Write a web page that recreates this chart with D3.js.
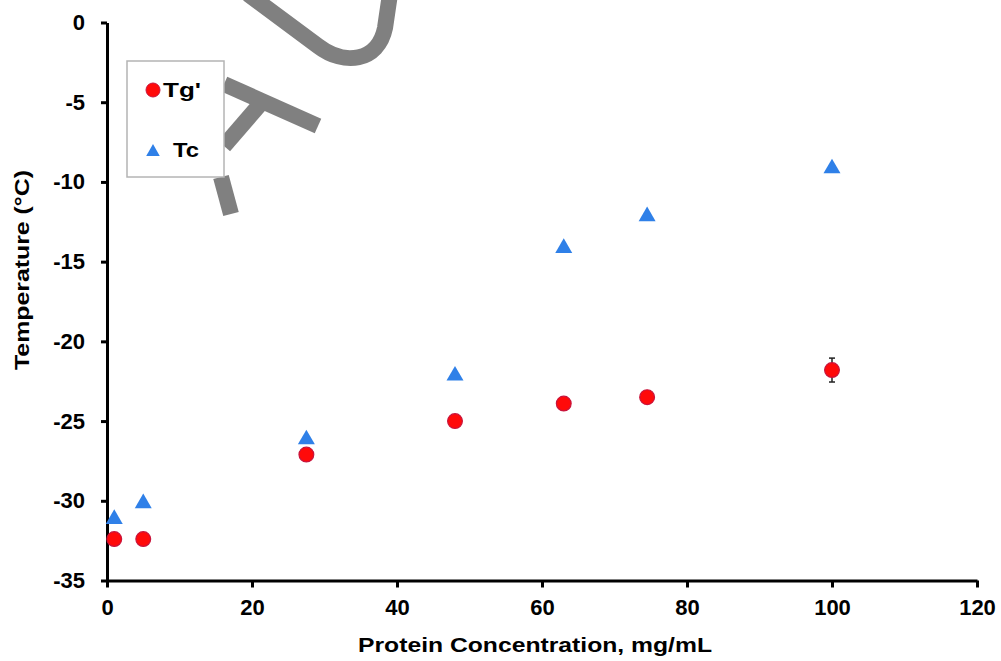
<!DOCTYPE html>
<html>
<head>
<meta charset="utf-8">
<script src="https://cdn.jsdelivr.net/npm/d3@7"></script>
<style>
  body { margin: 0; background: #fff; overflow: hidden; }
  text { font-family: "Liberation Sans", Arial, sans-serif; font-weight: bold; fill: #000; }
</style>
</head>
<body>
<script>
// values
const concentration = [1, 5, 27.5, 48, 63, 74.5, 100]
const tgPrime = [-32.4, -32.4, -27.1, -25.0, -23.9, -23.5, -21.8]
const tgError = [0, 0, 0, 0, 0, 0, 0.75]
const tc = [-31, -30, -26, -22, -14, -12, -9]
const xTicks = [0, 20, 40, 60, 80, 100, 120]
const yTicks = [0, -5, -10, -15, -20, -25, -30, -35]
const seriesNames = ["Tg'", 'Tc']

const width = 1001
const height = 661
const margin = { top: 22.5, right: 24, bottom: 80.5, left: 107 }

const red = '#ff0a0a'
const redEdge = '#c8143c'
const blue = '#2f80e8'

const svg = d3.select('body').append('svg')
    .attr('width', width)
    .attr('height', height)

const x = d3.scaleLinear().domain([0, 120]).range([margin.left, width - margin.right])
const y = d3.scaleLinear().domain([-35, 0]).range([height - margin.bottom, margin.top])

// grey watermark strokes behind the plot
const watermark = svg.append('g')
    .attr('fill', 'none')
    .attr('stroke', '#808080')
    .attr('stroke-width', 16)
watermark.append('path').attr('d', 'M224,84 L318,126')
watermark.append('path').attr('d', 'M262,102 L224,146')
watermark.append('path').attr('d', 'M221,177 L231,214')
watermark.append('path').attr('d', 'M248,-6 L318,46 C344,66 378,62 385,28 L390,-6')

// axes
const xAxis = svg.append('g')
    .attr('transform', `translate(0,${y(-35)})`)
    .call(d3.axisBottom(x).tickValues(xTicks).tickSize(7).tickSizeOuter(0).tickPadding(12).tickFormat(d => String(d)))
const yAxis = svg.append('g')
    .attr('transform', `translate(${x(0)},0)`)
    .call(d3.axisLeft(y).tickValues(yTicks).tickSize(6).tickSizeOuter(0).tickPadding(16).tickFormat(d => String(d)))

;[xAxis, yAxis].forEach(a => {
    a.select('.domain').attr('stroke', '#000').attr('stroke-width', 3)
    a.selectAll('.tick line').attr('stroke', '#000').attr('stroke-width', 3)
    a.selectAll('.tick text')
        .style('font-family', '"Liberation Sans", Arial, sans-serif')
        .style('font-weight', 'bold')
        .style('font-size', '22px')
        .attr('fill', '#000')
})

// axis titles
svg.append('text')
    .attr('x', 535)
    .attr('y', 652)
    .attr('text-anchor', 'middle')
    .attr('textLength', 354)
    .attr('lengthAdjust', 'spacingAndGlyphs')
    .style('font-size', '21px')
    .text('Protein Concentration, mg/mL')

svg.append('text')
    .attr('transform', 'translate(29,270) rotate(-90)')
    .attr('text-anchor', 'middle')
    .attr('textLength', 200)
    .attr('lengthAdjust', 'spacingAndGlyphs')
    .style('font-size', '20px')
    .text('Temperature (°C)')

// Tc triangles
const triSize = 125
const triOffset = Math.sqrt(triSize / (Math.sqrt(3) * 3)) / 2
const tri = d3.symbol().type(d3.symbolTriangle).size(triSize)

svg.append('g').selectAll('path')
    .data(concentration.map((c, i) => ({ c, v: tc[i] })))
    .join('path')
    .attr('d', tri)
    .attr('transform', d => `translate(${x(d.c)},${y(d.v) + triOffset})`)
    .attr('fill', blue)

// Tg' error bars and circles
const tgData = concentration.map((c, i) => ({ c, v: tgPrime[i], e: tgError[i] }))
const bars = svg.append('g').attr('stroke', '#222').attr('stroke-width', 1.5)
tgData.filter(d => d.e > 0).forEach(d => {
    bars.append('line').attr('x1', x(d.c)).attr('x2', x(d.c)).attr('y1', y(d.v - d.e)).attr('y2', y(d.v + d.e))
    bars.append('line').attr('x1', x(d.c) - 3).attr('x2', x(d.c) + 3).attr('y1', y(d.v - d.e)).attr('y2', y(d.v - d.e))
    bars.append('line').attr('x1', x(d.c) - 3).attr('x2', x(d.c) + 3).attr('y1', y(d.v + d.e)).attr('y2', y(d.v + d.e))
})

svg.append('g').selectAll('circle')
    .data(tgData)
    .join('circle')
    .attr('cx', d => x(d.c))
    .attr('cy', d => y(d.v))
    .attr('r', 7.4)
    .attr('fill', red)
    .attr('stroke', redEdge)
    .attr('stroke-width', 1.2)

// legend
const legend = svg.append('g')
legend.append('rect')
    .attr('x', 127).attr('y', 61)
    .attr('width', 97).attr('height', 116)
    .attr('fill', '#fff')
    .attr('stroke', '#b4b4b4').attr('stroke-width', 1.5)

legend.append('circle')
    .attr('cx', 153).attr('cy', 90).attr('r', 7)
    .attr('fill', red).attr('stroke', redEdge).attr('stroke-width', 1)
legend.append('text')
    .attr('x', 163).attr('y', 97)
    .attr('textLength', 38)
    .attr('lengthAdjust', 'spacingAndGlyphs')
    .style('font-size', '21px')
    .text(seriesNames[0])

legend.append('path')
    .attr('d', d3.symbol().type(d3.symbolTriangle).size(80))
    .attr('transform', `translate(153,${150 + Math.sqrt(80 / (Math.sqrt(3) * 3)) / 2})`)
    .attr('fill', blue)
legend.append('text')
    .attr('x', 173).attr('y', 157)
    .attr('textLength', 26)
    .attr('lengthAdjust', 'spacingAndGlyphs')
    .style('font-size', '21px')
    .text(seriesNames[1])
</script>
</body>
</html>
